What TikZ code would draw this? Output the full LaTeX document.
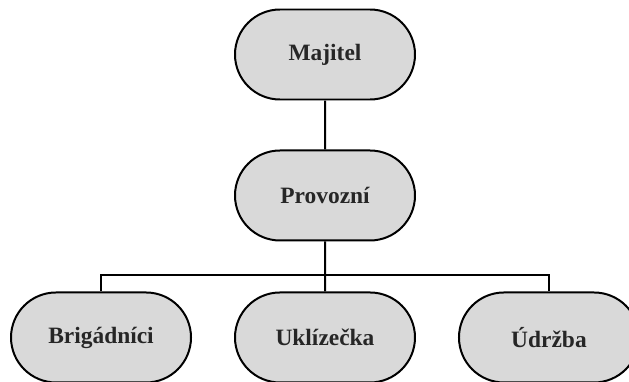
\documentclass[tikz,border=0pt]{standalone}
\usepackage{fontspec}
\setmainfont{Liberation Serif}
\usepackage{tikz}
\usetikzlibrary{shapes.misc, positioning}
\definecolor{boxgray}{HTML}{D9D9D9}
\definecolor{textgray}{HTML}{262626}

\begin{document}
\begin{tikzpicture}[line width=1.7pt,node distance=1.47cm and 1.26cm,
  role/.style={rounded rectangle,draw,fill=boxgray,text=textgray,
  font=\fontsize{20}{24}\selectfont\bfseries,minimum width=5.4cm,minimum height=2.7cm,inner sep=0pt}]
  \useasboundingbox (-9.75,1.635) rectangle (9.12,-9.825);
  \node[role] (Majitel) {Majitel};
  \node[role] (Provozni) [below=of Majitel] {Provozní};
  \node[role] (Uklizecka) [below=1.5cm of Provozni] {Uklízečka};
  \node[role] (Brigadnici) [left=of Uklizecka] {Brigádníci};
  \node[role] (Udrzba) [right=of Uklizecka] {Údržba};
  \coordinate (bus) at ([yshift=-1.02cm]Provozni.south);

  \path[draw]
    (Majitel) edge (Provozni)
    (Provozni) edge (Uklizecka)
    (bus) -| (Brigadnici.north)
    (bus) -| (Udrzba.north);
\end{tikzpicture}
\end{document}
